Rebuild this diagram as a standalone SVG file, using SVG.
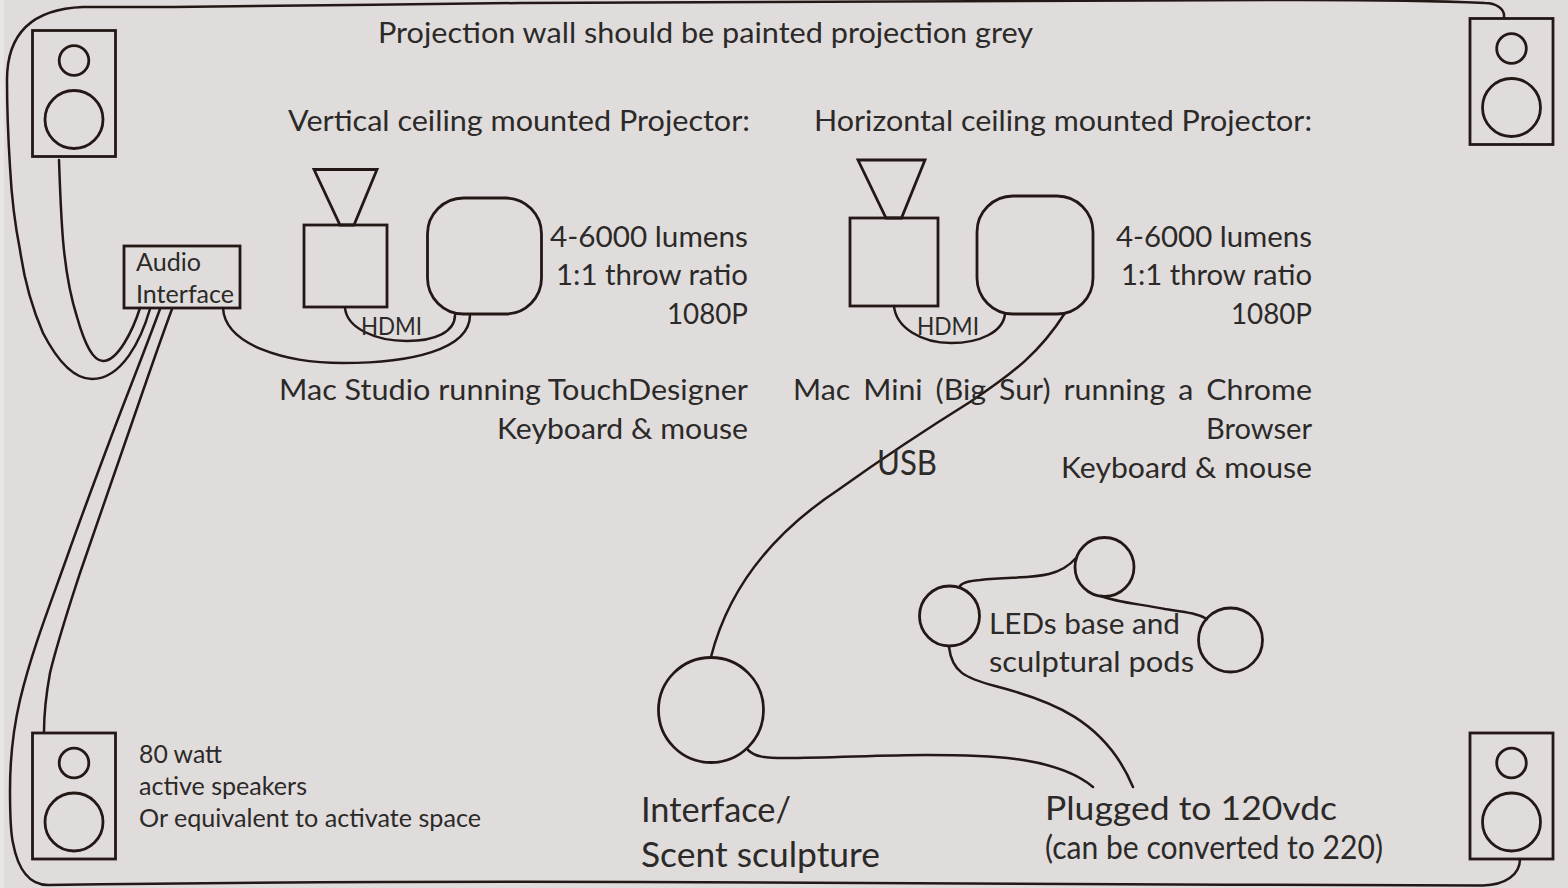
<svg xmlns="http://www.w3.org/2000/svg" width="1568" height="888" viewBox="0 0 1568 888">
<style>
.s{fill:none;stroke:#231815;stroke-width:2.8}
.c{fill:none;stroke:#231815;stroke-width:2.5;stroke-linecap:round}
text{font-family:Lato,"Noto Sans","Open Sans","Liberation Sans",sans-serif;fill:#2b2a29;font-size:29px}
.m{font-size:25px}.h{font-size:25px}.l{font-size:34px}.p{font-size:32px}
</style>
<defs>
<g id="spk"><rect class="s" x="0" y="0" width="83" height="126"/><circle class="s" cx="41.500" cy="30" r="14.800"/><circle class="s" cx="41.500" cy="89" r="29"/></g>
</defs>
<rect width="1568" height="888" fill="#e0dcdb"/>
<rect width="4" height="888" fill="#e8e6e5"/>
<g id="connectors">
<path class="c" d="M1504 17C1505 9 1496 3 1485 3C1440 1 1380 0 1300 0C1000 0 700 1 520 3C400 4 300 6 173 7C140 7 110 7 83 7C30 9 7 35 7 80C7 110 8 135 10 167C12 205 15 225 20 250C25 285 33 310 43 333C58 362 75 379 92 379C122 379 141 340 150 309"/>
<path class="c" d="M59 160C60 190 61 215 63 240C66 275 70 295 77 317C85 345 93 361 103 361C118 361 133 330 140 308"/>
<path class="c" d="M160 309C145 350 125 400 110 440C95 480 80 520 67 557C50 605 32 650 20 700C13 730 10 760 10 790C10 810 10 830 13 843C18 870 30 885 48 885C200 883 400 881 640 882C900 883 1200 885 1483 885.500C1505 885 1520 875 1520 859"/>
<path class="c" d="M172 309C155 355 140 400 126 440C110 485 95 530 80 573C68 610 58 640 50 673C46 695 44 715 44 732"/>
<path class="c" d="M223 308C225 345 285 363 343 363C410 363 470 350 470 315"/>
<path class="c" d="M345 308C347 328 375 341 407 341C435 341 455 332 455 315"/>
<path class="c" d="M894 306C896 328 922 343 951 343C980 343 1003 332 1005 314"/>
<path class="c" d="M711 657C728 590 770 535 838 490C880 460 925 430 970 402C1015 372 1040 352 1065 313"/>
<path class="c" d="M1076 558C1055 582 1025 575 980 580C968 581 962 583 960 586"/>
<path class="c" d="M1101 596C1115 602 1140 604 1165 609C1185 612 1197 613 1207 619"/>
<path class="c" d="M949 647C952 672 965 678 995 686C1050 700 1105 720 1133 787"/>
<path class="c" d="M748 750C755 757 765 758 785 758C830 758 880 755 926 755C980 755 1055 755 1093 787"/>
</g>
<g id="speaker-tl"><use href="#spk" x="32.500" y="30.500"/></g>
<g id="speaker-tr"><use href="#spk" x="1470" y="18.500"/></g>
<g id="speaker-bl"><use href="#spk" x="32.500" y="733"/></g>
<g id="speaker-br"><use href="#spk" x="1470" y="733"/></g>
<g id="audio-interface"><rect class="s" x="124" y="246" width="116" height="62"/><text class="m" x="136" y="271" textLength="65" lengthAdjust="spacingAndGlyphs">Audio</text><text class="m" x="136" y="303" textLength="98" lengthAdjust="spacingAndGlyphs">Interface</text></g>
<g id="projector-left"><rect class="s" x="304" y="225" width="83" height="82"/><path class="s" d="M314 169.500H377L354 225H340Z"/></g>
<g id="mac-left"><rect class="s" x="427.500" y="198" width="114" height="116" rx="36"/></g>
<g id="projector-right"><rect class="s" x="850" y="218" width="88" height="88"/><path class="s" d="M858 160H925L901.500 218H886Z"/></g>
<g id="mac-right"><rect class="s" x="977" y="196" width="116" height="118" rx="36"/></g>
<g id="sculpture"><circle class="s" cx="711" cy="710" r="52.500"/></g>
<g id="pod-1"><circle class="s" cx="949.500" cy="616" r="30"/></g>
<g id="pod-2"><circle class="s" cx="1104.500" cy="567" r="29.500"/></g>
<g id="pod-3"><circle class="s" cx="1230.500" cy="640" r="32"/></g>
<g id="labels">
<text x="378" y="43" textLength="655" lengthAdjust="spacingAndGlyphs">Projection wall should be painted projection grey</text>
<text x="288" y="131" textLength="462" lengthAdjust="spacingAndGlyphs">Vertical ceiling mounted Projector:</text>
<text x="814" y="131" textLength="498" lengthAdjust="spacingAndGlyphs">Horizontal ceiling mounted Projector:</text>
<text x="550" y="247" textLength="198" lengthAdjust="spacingAndGlyphs">4-6000 lumens</text>
<text x="556" y="285" textLength="192" lengthAdjust="spacingAndGlyphs">1:1 throw ratio</text>
<text x="667" y="324" textLength="81" lengthAdjust="spacingAndGlyphs">1080P</text>
<text x="1116" y="247" textLength="196" lengthAdjust="spacingAndGlyphs">4-6000 lumens</text>
<text x="1121" y="285" textLength="191" lengthAdjust="spacingAndGlyphs">1:1 throw ratio</text>
<text x="1231" y="324" textLength="81" lengthAdjust="spacingAndGlyphs">1080P</text>
<text class="h" x="361" y="335" textLength="61" lengthAdjust="spacingAndGlyphs">HDMI</text>
<text class="h" x="917" y="335" textLength="62" lengthAdjust="spacingAndGlyphs">HDMI</text>
<text x="279" y="400" textLength="469" lengthAdjust="spacingAndGlyphs">Mac Studio running TouchDesigner</text>
<text x="497" y="439" textLength="251" lengthAdjust="spacingAndGlyphs">Keyboard &amp; mouse</text>
<text x="793" y="400" word-spacing="5" textLength="519" lengthAdjust="spacingAndGlyphs">Mac Mini (Big Sur) running a Chrome</text>
<text x="1206" y="439" textLength="106" lengthAdjust="spacingAndGlyphs">Browser</text>
<text x="1061" y="478" textLength="251" lengthAdjust="spacingAndGlyphs">Keyboard &amp; mouse</text>
<text x="877" y="475" style="font-size:35px" textLength="60" lengthAdjust="spacingAndGlyphs">USB</text>
<text class="m" x="139" y="763" textLength="83" lengthAdjust="spacingAndGlyphs">80 watt</text>
<text class="m" x="139" y="795" textLength="168" lengthAdjust="spacingAndGlyphs">active speakers</text>
<text class="m" x="139" y="827" textLength="342" lengthAdjust="spacingAndGlyphs">Or equivalent to activate space</text>
<text x="989" y="634" textLength="191" lengthAdjust="spacingAndGlyphs">LEDs base and</text>
<text x="989" y="672" textLength="205" lengthAdjust="spacingAndGlyphs">sculptural pods</text>
<text class="l" x="641" y="822" textLength="150" lengthAdjust="spacingAndGlyphs">Interface/</text>
<text class="l" x="641" y="867" textLength="239" lengthAdjust="spacingAndGlyphs">Scent sculpture</text>
<text class="p" x="1045" y="820" textLength="292" lengthAdjust="spacingAndGlyphs">Plugged to 120vdc</text>
<text class="p" x="1045" y="859" textLength="338" lengthAdjust="spacingAndGlyphs">(can be converted to 220)</text>
</g>
</svg>
